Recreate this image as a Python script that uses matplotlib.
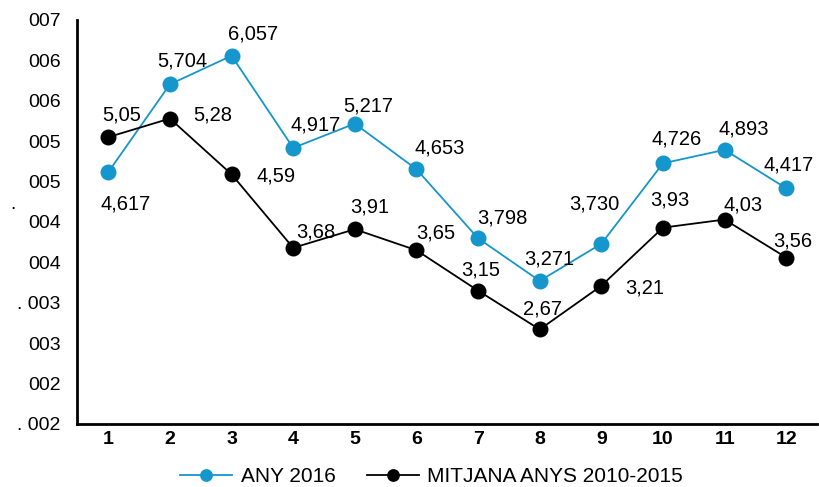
import numpy as np
import matplotlib
matplotlib.use("Agg")
import matplotlib.pyplot as plt
import matplotlib.transforms as mtransforms

plt.rcParams['font.family'] = ['Liberation Sans', 'DejaVu Sans']

# data
months = [1, 2, 3, 4, 5, 6, 7, 8, 9, 10, 11, 12]
any_2016 = [4.617, 5.704, 6.057, 4.917, 5.217, 4.653, 3.798, 3.271, 3.730, 4.726, 4.893, 4.417]
mitjana = [5.05, 5.28, 4.59, 3.68, 3.91, 3.65, 3.15, 2.67, 3.21, 3.93, 4.03, 3.56]
ytick_vals = [1.5, 2.0, 2.5, 3.0, 3.5, 4.0, 4.5, 5.0, 5.5, 6.0, 6.5]
ytick_labels = ['. 002', '002', '003', '. 003', '004', '004', '005', '005', '006', '006', '007']

# label offsets in pixels (dx right, dy down)
off_blue = [(17, 32), (12, -23), (22, -22), (22, -23), (13, -18), (23, -21),
            (24, -20), (10, -22), (-7, -40), (14, -24), (19, -21), (2, -23)]
off_black = [(13, -22), (43, -4), (45, 2), (23, -16), (15, -22), (19, -17),
             (3, -21), (3, -20), (43, 2), (7, -28), (18, -15), (7, -17)]

blue = '#1596CC'

fig = plt.figure(figsize=(8.19, 4.87), dpi=100)
ax = fig.add_axes([0.0946, 0.1294, 0.903, 0.8296])

ax.plot(months, any_2016, color=blue, lw=1.3, marker='o', ms=11.5,
        markeredgewidth=0, label='ANY 2016')
ax.plot(months, mitjana, color='black', lw=1.3, marker='o', ms=11.5,
        markeredgewidth=0, label='MITJANA ANYS 2010-2015')

px = 72 / 100
for x, y, (dx, dy) in zip(months, any_2016, off_blue):
    ax.annotate(f'{y:.3f}'.replace('.', ','), (x, y), xytext=(dx * px, -dy * px),
                textcoords='offset points', ha='center', va='center', fontsize=14.5)
for x, y, (dx, dy) in zip(months, mitjana, off_black):
    ax.annotate(f'{y:.2f}'.replace('.', ','), (x, y), xytext=(dx * px, -dy * px),
                textcoords='offset points', ha='center', va='center', fontsize=14.5)

ax.set_xlim(0.5, 12.5)
ax.set_ylim(1.5, 6.5)
ax.set_xticks(months)
ax.set_xticklabels([str(m) for m in months], fontsize=14, fontweight='bold')
ax.set_yticks(ytick_vals)
ax.set_yticklabels(ytick_labels, fontsize=14)
ax.tick_params(axis='both', length=0)
ax.tick_params(axis='y', pad=12)
ax.tick_params(axis='x', pad=5)

for s in ['top', 'right']:
    ax.spines[s].set_visible(False)
for s in ['left', 'bottom']:
    ax.spines[s].set_linewidth(2)

# stray dot left of the axis
trans = mtransforms.blended_transform_factory(fig.transFigure, ax.transData)
ax.text(13 / 819, 4.22, '.', transform=trans, ha='center', va='center', fontsize=14)

fig.legend(loc='center', bbox_to_anchor=(0.527, 0.021), ncol=2, frameon=False,
           fontsize=15, handlelength=2.5, columnspacing=1.5, handletextpad=0.4,
           markerscale=0.8)

fig.savefig('out.png', dpi=100)
